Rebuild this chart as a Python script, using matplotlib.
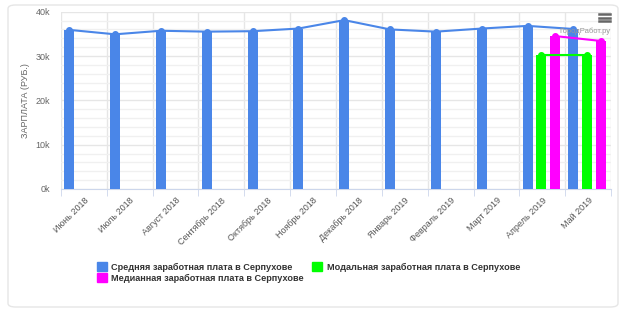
import numpy as np
import matplotlib
matplotlib.use('Agg')
import matplotlib.pyplot as plt
from matplotlib.patches import FancyBboxPatch
from matplotlib.ticker import MultipleLocator, FuncFormatter

months = ['Июнь 2018', 'Июль 2018', 'Август 2018', 'Сентябрь 2018', 'Октябрь 2018',
          'Ноябрь 2018', 'Декабрь 2018', 'Январь 2019', 'Февраль 2019', 'Март 2019',
          'Апрель 2019', 'Май 2019']
avg_salary = [35900, 34900, 35700, 35500, 35600, 36200, 38100, 36000, 35500, 36200, 36800, 36100]
modal_months = ['Апрель 2019', 'Май 2019']
modal_salary = [30200, 30200]
median_salary = [34500, 33400]

plt.rcParams['font.family'] = ['Liberation Sans', 'DejaVu Sans']

fig = plt.figure(figsize=(6.24, 3.11), dpi=100)
ax = fig.add_axes([61/624, 1 - 189/311, 550/624, (189 - 11.7)/311])

# chart frame
frame = FancyBboxPatch((8/624, 4/311), 610/624, 302/311,
                       boxstyle='round,pad=0,rounding_size=0.012',
                       transform=fig.transFigure, facecolor='white',
                       edgecolor='#e6e6e6', linewidth=1, zorder=-10)
fig.patches.append(frame)

x = np.arange(len(months))
w = 0.22
blue, green, pink = '#4a86e8', '#00ff00', '#ff00ff'

ax.bar(x - 0.32, avg_salary, w, color=blue, zorder=3)
ax.plot(x - 0.32, avg_salary, color=blue, lw=1.5, marker='o', ms=4, zorder=4)

xm = np.array([months.index(m) for m in modal_months])
ax.bar(xm - 0.02, modal_salary, w, color=green, zorder=3)
ax.plot(xm - 0.02, modal_salary, color=green, lw=1.5, marker='o', ms=4, zorder=4)
ax.bar(xm + 0.28, median_salary, w, color=pink, zorder=3)
ax.plot(xm + 0.28, median_salary, color=pink, lw=1.5, marker='o', ms=4, zorder=4)

ax.set_xlim(-0.5, len(months) - 0.5)
ax.set_ylim(0, 40000)
ax.yaxis.set_major_locator(MultipleLocator(10000))
ax.yaxis.set_minor_locator(MultipleLocator(2000))
ax.yaxis.set_major_formatter(FuncFormatter(lambda v, p: f'{int(v/1000)}k'))
ax.grid(True, which='major', axis='y', color='#e6e6e6', lw=1, zorder=0)
ax.grid(True, which='minor', axis='y', color='#f0f0f0', lw=1, zorder=0)

# category boundaries as vertical grid
ax.set_xticks(np.arange(len(months) + 1) - 0.5, minor=True)
ax.grid(True, which='minor', axis='x', color='#e6e6e6', lw=1, zorder=0)
ax.set_xticks(x)
ax.set_xticklabels(months, rotation=45, ha='right', va='top', rotation_mode='anchor',
                   fontsize=6.5, color='#555555')
ax.tick_params(axis='x', which='major', length=0, pad=5)
ax.tick_params(axis='x', which='minor', length=5, color='#ccd6eb')
ax.tick_params(axis='y', which='both', length=0, labelsize=6.5, labelcolor='#666666', pad=8)

for s in ['top', 'right', 'left']:
    ax.spines[s].set_visible(False)
ax.spines['bottom'].set_color('#ccd6eb')

ax.set_ylabel('ЗАРПЛАТА (РУБ.)', fontsize=6.5, color='#666666', labelpad=4)

handles = [plt.Rectangle((0, 0), 1, 1, color=c) for c in (blue, pink, green)]
labels = ['Средняя заработная плата в Серпухове',
          'Медианная заработная плата в Серпухове',
          'Модальная заработная плата в Серпухове']
fig.legend(handles, labels, ncol=2, loc='upper left', bbox_to_anchor=(89/624, 1 - 254/311),
           frameon=False, prop={'weight': 'bold', 'size': 6.6},
           handlelength=1.1, handleheight=1.1, handletextpad=0.45,
           columnspacing=0.9, labelspacing=0.15, labelcolor='#333333')

# menu icon and credits
for dy in (0, 3.5, 7):
    fig.add_artist(plt.Line2D([599/624, 610/624], [1 - (14 + dy)/311] * 2,
                              color='#666666', lw=1.8, transform=fig.transFigure))
fig.text(611/624, 1 - 31/311, 'ГородРабот.ру', fontsize=5.5, color='#999999',
         ha='right', va='center')

plt.savefig('out.png', dpi=100)
